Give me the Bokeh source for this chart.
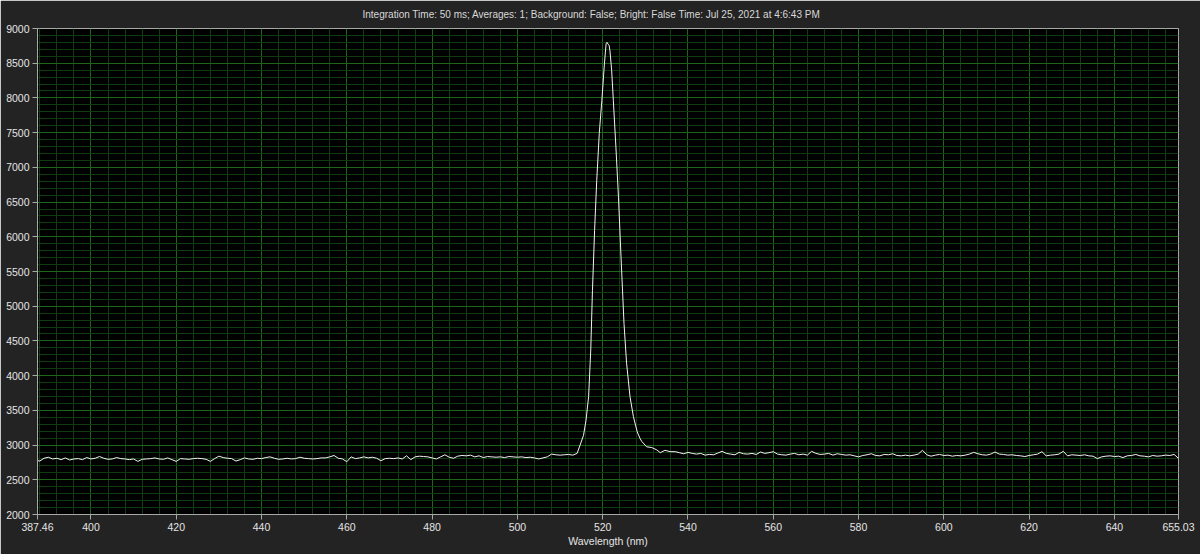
from bokeh.plotting import figure
from bokeh.models import FixedTicker, Range1d, ColumnDataSource
from bokeh.embed import file_html
from bokeh.resources import INLINE

TITLE = "Integration Time: 50 ms; Averages: 1; Background: False; Bright: False Time: Jul 25, 2021 at 4:6:43 PM"
X_LABEL = "Wavelength (nm)"

# x axis ticks (range ends are labelled too)
x_ticks = [387.46, 400, 420, 440, 460, 480, 500, 520, 540, 560, 580, 600, 620, 640, 655.03]
x_tick_labels = ["387.46", "400", "420", "440", "460", "480", "500", "520", "540",
                 "560", "580", "600", "620", "640", "655.03"]
y_ticks = [2000, 2500, 3000, 3500, 4000, 4500, 5000, 5500, 6000, 6500, 7000, 7500, 8000, 8500, 9000]

# baseline left of the peak (nm, counts)
wl_left = [387.46] + list(range(388, 515))
counts_left = [
    2775,
    2770, 2810, 2825, 2800, 2810, 2790, 2815, 2785, 2800, 2805, 2790, 2820,
    2800, 2810, 2835, 2810, 2795, 2800, 2820, 2805, 2800, 2790,
    2800, 2765, 2795, 2800, 2805, 2815, 2800, 2795, 2815, 2790,
    2765, 2805, 2800, 2795, 2805, 2810, 2805, 2795, 2765, 2805,
    2840, 2820, 2810, 2805, 2770, 2790, 2815, 2800, 2795, 2810,
    2805, 2820, 2830, 2810, 2795, 2800, 2810, 2800, 2805, 2825,
    2810, 2805, 2800, 2805, 2815, 2815, 2830, 2850, 2810, 2800,
    2760, 2830, 2805, 2815, 2830, 2815, 2825, 2810, 2775, 2805,
    2810, 2805, 2815, 2800, 2845, 2790, 2830, 2840, 2835, 2830,
    2815, 2800, 2830, 2860, 2825, 2810, 2840, 2850, 2845, 2855,
    2830, 2845, 2820, 2835, 2830, 2825, 2830, 2820, 2835, 2830,
    2825, 2830, 2820, 2825, 2815, 2800, 2815, 2830, 2870, 2860,
    2855, 2860, 2865, 2855, 2880,
]

# emission peak (nm, counts)
wl_peak = [514.7, 515.5, 516.1, 516.7, 517.2, 517.6, 518.1, 518.6, 519.2, 519.8,
           520.4, 520.8, 521.0, 521.3, 521.5, 521.7, 522.1, 522.5, 523.1, 523.7,
           524.3, 525.0, 525.6, 526.4, 527.2, 528.1, 528.8, 529.2, 530.3, 531.5,
           532.7, 533.5, 534.6, 535.8]
counts_peak = [3000, 3140, 3360, 3700, 4370, 5230, 6090, 6810, 7490, 7960,
               8490, 8780, 8800, 8770, 8760, 8680, 8400, 7960, 7290, 6570,
               5710, 4750, 4180, 3700, 3410, 3190, 3090, 3050, 2975, 2965,
               2930, 2890, 2925, 2905]

# baseline right of the peak (nm, counts)
wl_right = list(range(537, 656)) + [655.03]
counts_right = [
    2905, 2890, 2875, 2895, 2880, 2870, 2880, 2855, 2865, 2860,
    2885, 2910, 2880, 2870, 2860, 2895, 2875, 2870, 2880, 2865,
    2900, 2880, 2890, 2905, 2870, 2860, 2855, 2870, 2880, 2860,
    2870, 2855, 2910, 2880, 2865, 2870, 2880, 2855, 2875, 2865,
    2855, 2860, 2845, 2830, 2850, 2860, 2875, 2850, 2845, 2865,
    2860, 2875, 2850, 2845, 2855, 2845, 2855, 2870, 2925, 2860,
    2840, 2855, 2865, 2850, 2855, 2840, 2850, 2845, 2855, 2870,
    2895, 2875, 2860, 2855, 2870, 2900, 2870, 2865, 2855, 2860,
    2850, 2845, 2835, 2850, 2860, 2870, 2905, 2845, 2855, 2860,
    2870, 2910, 2845, 2860, 2855, 2850, 2860, 2845, 2840, 2805,
    2830, 2840, 2845, 2835, 2840, 2820, 2845, 2850, 2865, 2845,
    2840, 2830, 2850, 2840, 2845, 2855, 2850, 2865, 2810,
    2815,
]

assert len(wl_left) == len(counts_left)
assert len(wl_peak) == len(counts_peak)
assert len(wl_right) == len(counts_right)

BG = "#232323"
MAJOR_GRID = "#1c661c"
MINOR_GRID = "#113c11"
AXIS_GRAY = "#a8a8a8"
TEXT = "#e4e4e4"
FONT = "Liberation Sans"

source = ColumnDataSource(data=dict(
    wl=wl_left + wl_peak + wl_right,
    counts=counts_left + counts_peak + counts_right,
))

# the page margin is removed below, so the canvas covers the full 1200x554 window
p = figure(width=1200, height=554, output_backend="svg", toolbar_location=None,
           x_range=Range1d(387.46, 655.03), y_range=Range1d(2000, 9000),
           min_border_left=37, min_border_right=22, min_border_top=28, min_border_bottom=40)
p.background_fill_color = "black"
p.border_fill_color = BG
p.outline_line_color = AXIS_GRAY
p.outline_line_width = 1

# title (left aligned with an offset so that it sits where the reference has it)
p.title.text = TITLE
p.title.align = "left"
p.title.offset = 325
p.title.vertical_align = "top"
p.title.standoff = 14
p.title.text_font = FONT
p.title.text_font_size = "10px"
p.title.text_font_style = "normal"
p.title.text_color = "#d8d8d8"

# grid: bright lines at 20 nm / 500 counts, dim lines at 4 nm / 100 counts
grid_x_major = [v for v in x_ticks if isinstance(v, int)]
grid_x_minor = [v for v in range(388, 656, 4) if v % 20 != 0]
grid_y_minor = [v for v in range(2100, 9000, 100) if v % 500 != 0]
p.xgrid.ticker = FixedTicker(ticks=grid_x_major, minor_ticks=grid_x_minor)
p.ygrid.ticker = FixedTicker(ticks=y_ticks, minor_ticks=grid_y_minor)
for g in (p.xgrid[0], p.ygrid[0]):
    g.grid_line_color = MAJOR_GRID
    g.grid_line_width = 1
    g.minor_grid_line_color = MINOR_GRID
    g.minor_grid_line_width = 1

p.xaxis.ticker = FixedTicker(ticks=x_ticks)
p.xaxis.major_label_overrides = dict(zip(x_ticks, x_tick_labels))
p.yaxis.ticker = FixedTicker(ticks=y_ticks)
for ax in (p.xaxis[0], p.yaxis[0]):
    ax.axis_line_color = AXIS_GRAY
    ax.major_tick_line_color = AXIS_GRAY
    ax.major_tick_out = 5
    ax.major_tick_in = 0
    ax.minor_tick_line_color = None
    ax.major_label_text_color = TEXT
    ax.major_label_text_font = FONT
    ax.major_label_text_font_size = "10.5px"
p.xaxis.major_label_standoff = 3
p.yaxis.major_label_standoff = 3

p.xaxis.axis_label = X_LABEL
p.xaxis.axis_label_standoff = 1
p.xaxis.axis_label_text_font = FONT
p.xaxis.axis_label_text_font_size = "10.5px"
p.xaxis.axis_label_text_font_style = "normal"
p.xaxis.axis_label_text_color = TEXT

p.line("wl", "counts", source=source, line_color="#f2f2f2", line_width=1)

html = file_html(p, INLINE, title="Spectrum")
html = html.replace("<body>", '<body style="margin:0;background-color:#232323;">', 1)
open("out.html", "w").write(html)
